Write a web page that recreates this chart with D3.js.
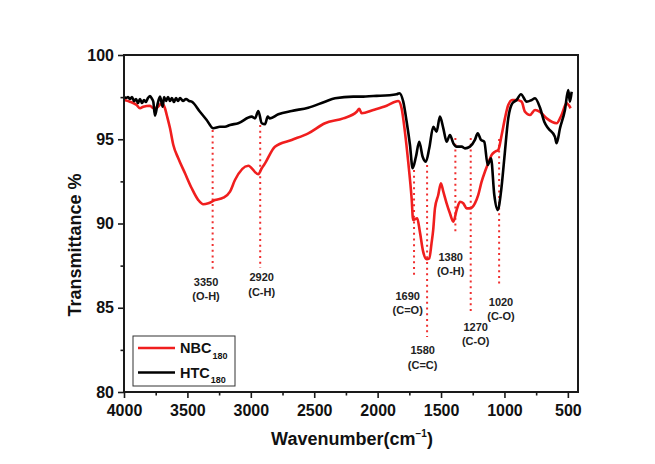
<!DOCTYPE html>
<html><head><meta charset="utf-8">
<script src="https://cdn.jsdelivr.net/npm/d3@7"></script>
<style>
html,body{margin:0;padding:0;background:#fff;}
svg{display:block;font-family:"Liberation Sans",Arial,Helvetica,sans-serif;}
</style></head>
<body><svg id="c" width="655" height="464"></svg>
<script>
// ---- data ----
const xMajorTicks = [4000,3500,3000,2500,2000,1500,1000,500];
const xMinorTicks = [3750,3250,2750,2250,1750,1250,750];
const yMajorTicks = [80,85,90,95,100];
const yMinorTicks = [82.5,87.5,92.5,97.5];

const htcWave = [4000,3984,3968,3953,3937,3921,3905,3890,3874,3858,3842,3827,3811,3795,3779,3769,3756,3737,3716,3695,3684,3669,3653,3637,3622,3606,3590,3574,3558,3535,3511,3487,3466,3401,3348,3296,3243,3204,3164,3099,2993,2967,2941,2914,2888,2867,2849,2783,2678,2547,2415,2336,2192,2113,2034,1981,1850,1829,1798,1771,1745,1724,1698,1672,1645,1619,1593,1561,1535,1509,1482,1456,1430,1403,1377,1337,1311,1272,1233,1211,1185,1159,1132,1106,1080,1053,1027,1001,970,938,904,870,825,785,759,720,686,655,602,589,562,523,497,484,470];
const htcT = [97.53,97.45,97.51,97.39,97.51,97.27,97.39,97.15,97.39,97.15,97.33,97.21,97.45,97.57,97.39,97.23,96.40,97.03,97.53,96.93,97.51,97.27,97.51,97.27,97.45,97.21,97.45,97.27,97.45,97.27,97.39,97.27,97.23,96.63,96.14,95.65,95.74,95.74,95.85,95.95,96.34,96.24,96.68,95.95,95.89,96.34,96.24,96.48,96.68,96.87,97.23,97.43,97.53,97.53,97.57,97.58,97.67,97.73,97.23,96.04,94.66,93.28,93.96,94.85,93.96,93.67,94.46,95.74,95.45,96.34,95.65,94.85,95.25,94.76,94.56,94.56,94.46,94.56,94.96,95.35,94.96,94.85,93.47,93.87,91.69,90.80,91.89,93.87,96.24,97.13,97.33,97.67,97.23,97.33,97.43,96.88,96.04,95.65,95.15,94.76,95.65,96.74,97.92,97.23,97.82];

const nbcWave = [4000,3953,3900,3874,3848,3795,3769,3742,3703,3677,3663,3637,3611,3572,3519,3466,3414,3375,3335,3283,3217,3164,3125,3020,2941,2914,2888,2810,2678,2547,2415,2271,2165,2145,2126,2034,1929,1837,1811,1785,1759,1732,1720,1688,1667,1641,1614,1593,1575,1562,1548,1522,1501,1482,1456,1430,1403,1377,1351,1325,1298,1272,1233,1207,1180,1154,1128,1101,1075,1049,1022,996,970,938,904,865,838,799,759,720,667,589,550,510,478];
const nbcT = [97.33,97.23,97.03,96.84,96.93,96.99,96.84,96.87,97.13,96.84,96.44,95.65,94.66,93.87,92.98,92.09,91.39,91.14,91.20,91.39,91.53,91.89,92.58,93.43,92.92,93.28,93.57,94.56,94.96,95.35,95.95,96.24,96.63,96.80,96.54,96.74,96.99,97.27,96.84,95.45,93.67,91.50,90.21,90.31,89.51,88.33,87.88,87.93,88.82,89.61,90.90,91.69,92.39,91.89,91.20,90.61,90.11,90.80,91.29,91.20,90.90,90.90,91.20,91.69,92.48,93.07,93.57,94.07,94.26,94.36,95.25,96.24,97.03,97.33,97.33,97.23,96.63,96.44,96.74,96.63,96.24,95.95,96.44,97.13,96.84];

const seriesNames = ["NBC","HTC"];
const seriesSubs = ["180","180"];
const seriesColors = ["#f01e1e","#000000"];

const peakLabels = ["3350","2920","1690","1580","1380","1270","1020"];
const peakGroups = ["(O-H)","(C-H)","(C=O)","(C=C)","(O-H)","(C-O)","(C-O)"];
const peakLineWave = [3301,2926,1713,1610,1387,1266,1042];
const peakLineTop = [95.55,95.85,93.17,93.47,95.07,95.07,95.01];
const peakLineBottom = [87.12,87.36,86.82,83.26,89.32,84.69,86.35];
const peakLabelWave = [3353,2914,1763,1645,1424,1227,1027];
const peakLabelT = [86.55,86.82,85.70,82.49,88.01,83.87,85.36];

// ---- chart ----
const svg = d3.select("#c");
svg.append("rect").attr("width",655).attr("height",464).attr("fill","#fff");
const L=124,R=578,T=55,B=392;
const x = d3.scaleLinear().domain([4000,420]).range([L,R]);
const y = d3.scaleLinear().domain([80,100]).range([B,T]);

const line = d3.line().x(d=>x(d[0])).y(d=>y(d[1])).curve(d3.curveMonotoneX);
const nbc = nbcWave.map((w,i)=>[w,nbcT[i]]);
const htc = htcWave.map((w,i)=>[w,htcT[i]]);

// annotation dotted lines
const peaks = peakLabels.map((l,i)=>({l,g:peakGroups[i],w:peakLineWave[i],t0:peakLineTop[i],t1:peakLineBottom[i],lw:peakLabelWave[i],lt:peakLabelT[i]}));
svg.append("g").selectAll("line").data(peaks).join("line")
  .attr("x1",d=>x(d.w)).attr("x2",d=>x(d.w))
  .attr("y1",d=>y(d.t0)).attr("y2",d=>y(d.t1))
  .attr("stroke","#f03030").attr("stroke-width",2).attr("stroke-dasharray","2,3.7");

svg.append("path").datum(nbc).attr("d",line).attr("fill","none")
  .attr("stroke",seriesColors[0]).attr("stroke-width",2.6).attr("stroke-linejoin","round");
svg.append("path").datum(htc).attr("d",line).attr("fill","none")
  .attr("stroke",seriesColors[1]).attr("stroke-width",2.6).attr("stroke-linejoin","round");

const lab = svg.append("g").attr("font-size","11px").attr("font-weight","bold").attr("fill","#222").attr("text-anchor","middle");
peaks.forEach(d=>{
  lab.append("text").attr("x",x(d.lw)).attr("y",y(d.lt)).attr("dy","0.36em").text(d.l);
  lab.append("text").attr("x",x(d.lw)).attr("y",y(d.lt)+14.5).attr("dy","0.36em").text(d.g);
});

// frame
svg.append("rect").attr("x",L).attr("y",T).attr("width",R-L).attr("height",B-T)
  .attr("fill","none").attr("stroke","#1a1a1a").attr("stroke-width",2);

// axes
const gx = svg.append("g").attr("transform",`translate(0,${B})`)
  .call(d3.axisBottom(x).tickValues(xMajorTicks).tickSize(6).tickFormat(d3.format("d")));
const gxm = svg.append("g").attr("transform",`translate(0,${B})`)
  .call(d3.axisBottom(x).tickValues(xMinorTicks).tickSize(3.5).tickFormat(""));
const gy = svg.append("g").attr("transform",`translate(${L},0)`)
  .call(d3.axisLeft(y).tickValues(yMajorTicks).tickSize(6).tickFormat(d3.format("d")));
const gym = svg.append("g").attr("transform",`translate(${L},0)`)
  .call(d3.axisLeft(y).tickValues(yMinorTicks).tickSize(3.5).tickFormat(""));
[gx,gxm,gy,gym].forEach(g=>{
  g.select(".domain").remove();
  g.selectAll(".tick line").attr("stroke","#1a1a1a").attr("stroke-width",1.6);
  g.selectAll("text").attr("font-size","16px").attr("font-weight","bold").attr("fill","#111")
   .attr("font-family","Liberation Sans, Arial, sans-serif");
});
gx.selectAll("text").attr("y",13);
gy.selectAll("text").attr("x",-10);

// titles
svg.append("text").attr("transform","translate(75,245) rotate(-90)").attr("text-anchor","middle")
  .attr("dy","0.36em").attr("font-size","18px").attr("font-weight","bold").attr("fill","#111").text("Transmittance %");
const xt = svg.append("text").attr("x",352).attr("y",445).attr("text-anchor","middle")
  .attr("font-size","18px").attr("font-weight","bold").attr("fill","#111");
xt.append("tspan").text("Wavenumber(cm");
xt.append("tspan").attr("font-size","10px").attr("dy",-8).text("\u22121");
xt.append("tspan").attr("dy",8).text(")");

// legend
const lg = svg.append("g");
lg.append("rect").attr("x",133).attr("y",336).attr("width",102).attr("height",50)
  .attr("fill","#fff").attr("stroke","#333").attr("stroke-width",1);
const legY = [348,372.5];
seriesNames.forEach((n,i)=>{
  lg.append("line").attr("x1",138).attr("x2",175).attr("y1",legY[i]).attr("y2",legY[i])
    .attr("stroke",seriesColors[i]).attr("stroke-width",2.6);
  const t = lg.append("text").attr("x",180).attr("y",legY[i]+5).attr("font-size","14.5px")
    .attr("font-weight","bold").attr("fill","#111");
  t.append("tspan").text(n);
  t.append("tspan").attr("font-size","9px").attr("dy",5.5).attr("dx",1).text(seriesSubs[i]);
});
</script></body></html>
